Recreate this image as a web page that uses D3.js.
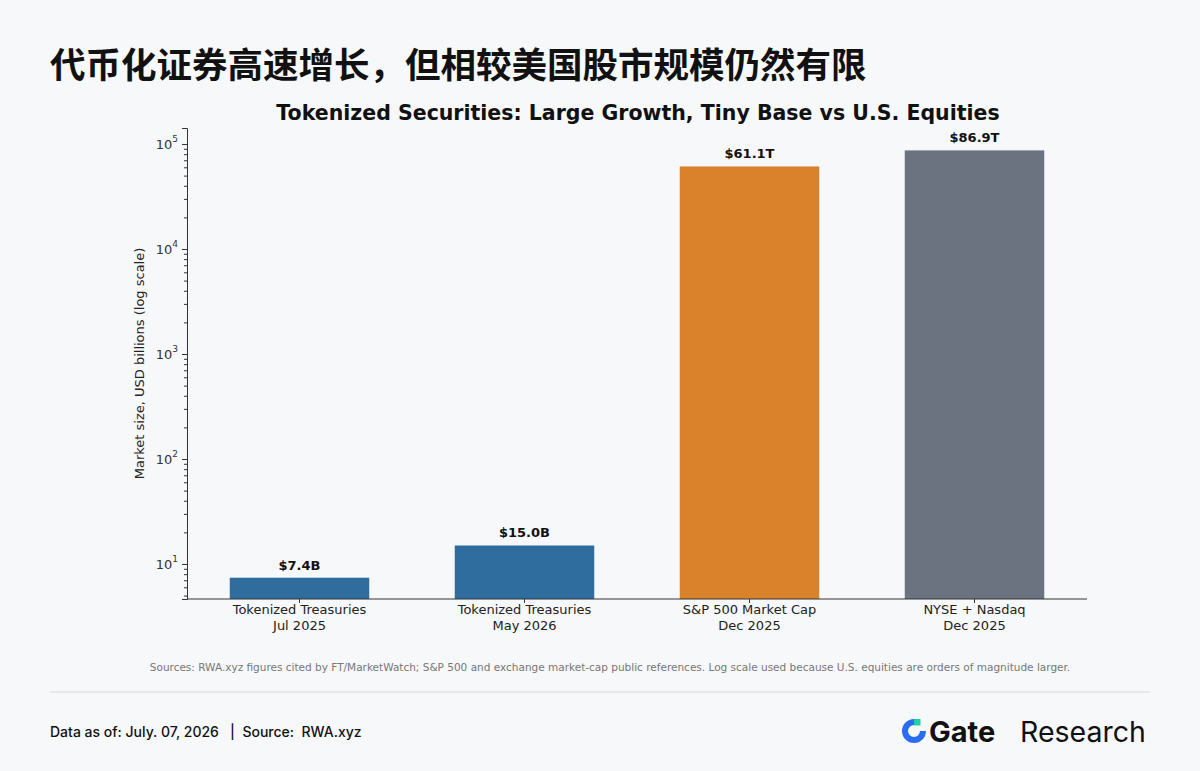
<!DOCTYPE html>
<html><head><meta charset="utf-8">
<script src="https://cdn.jsdelivr.net/npm/d3@7"></script>
<style>body{margin:0;background:#f7f8fa;}svg{display:block;font-family:"DejaVu Sans",sans-serif;}</style>
</head><body>
<script>
var categories = ["Tokenized Treasuries|Jul 2025", "Tokenized Treasuries|May 2026", "S&P 500 Market Cap|Dec 2025", "NYSE + Nasdaq|Dec 2025"];
var values = [7.4, 15.0, 61100, 86900];
var labels = ["$7.4B", "$15.0B", "$61.1T", "$86.9T"];
var colors = ["#2e6d9e", "#2e6d9e", "#d9812b", "#6b7280"];

var width = 1200, height = 771;
var pLeft = 187, pRight = 1087, pTop = 128, pBottom = 599;

var svg = d3.select("body").append("svg").attr("width", width).attr("height", height);
svg.append("rect").attr("width", width).attr("height", height).attr("fill", "#f7f8fa");

svg.append("text").attr("x", 50).attr("y", 78)
    .attr("font-family", "'Noto Sans CJK SC',sans-serif").attr("font-weight", 700)
    .attr("font-size", 35.5).attr("fill", "#111").text("代币化证券高速增长，但相较美国股市规模仍然有限");

svg.append("text").attr("x", 638).attr("y", 120).attr("text-anchor", "middle")
    .attr("font-weight", "bold").attr("font-size", 20.5).attr("fill", "#111")
    .text("Tokenized Securities: Large Growth, Tiny Base vs U.S. Equities");

var x = d3.scaleBand().domain(categories).range([pLeft, pRight]).paddingInner(0.38).paddingOuter(0.19);
var y = d3.scaleLog().domain([4.64, 142000]).range([pBottom, pTop]);

svg.selectAll(".bar").data(values).enter().append("rect")
    .attr("x", (d, i) => x(categories[i]))
    .attr("width", x.bandwidth())
    .attr("y", d => y(d))
    .attr("height", d => pBottom - y(d))
    .attr("fill", (d, i) => colors[i]);

svg.selectAll(".lbl").data(values).enter().append("text")
    .attr("x", (d, i) => x(categories[i]) + x.bandwidth() / 2)
    .attr("y", d => y(d) - 8)
    .attr("text-anchor", "middle").attr("font-weight", "bold").attr("font-size", 13).attr("fill", "#111")
    .text((d, i) => labels[i]);

// y axis
var yAxis = d3.axisLeft(y).tickValues([10, 100, 1000, 10000, 100000]).tickFormat("").tickSize(5);
var gy = svg.append("g").attr("transform", "translate(" + pLeft + ",0)").call(yAxis);
var minor = [];
for (var e = 0; e <= 5; e++) for (var m = 2; m <= 9; m++) { var v = m * Math.pow(10, e); if (v > 4.64 && v < 142000) minor.push(v); }
svg.append("g").attr("transform", "translate(" + pLeft + ",0)")
    .call(d3.axisLeft(y).tickValues(minor).tickFormat("").tickSize(3))
    .call(g => g.select(".domain").remove());
svg.selectAll(".tick line").attr("stroke", "#333");
gy.select(".domain").attr("stroke", "#333");
[1, 2, 3, 4, 5].forEach(function (p) {
    var t = svg.append("text").attr("x", pLeft - 9).attr("y", y(Math.pow(10, p)) + 5)
        .attr("text-anchor", "end").attr("font-size", 13).attr("fill", "#333");
    t.append("tspan").text("10");
    t.append("tspan").attr("dy", -7).attr("font-size", 9).text(p);
});
svg.append("text").attr("transform", "translate(144," + (pTop + pBottom) / 2 + ") rotate(-90)")
    .attr("text-anchor", "middle").attr("font-size", 13).attr("fill", "#222")
    .text("Market size, USD billions (log scale)");

// x axis
var gx = svg.append("g").attr("transform", "translate(0," + pBottom + ")")
    .call(d3.axisBottom(x).tickSize(4).tickSizeOuter(0).tickFormat(""));
gx.select(".domain").attr("stroke", "#333").attr("d", "M" + pLeft + ",0H" + pRight);
gx.selectAll(".tick line").attr("stroke", "#333");
categories.forEach(function (c) {
    c.split("|").forEach(function (p, k) {
        svg.append("text").attr("x", x(c) + x.bandwidth() / 2).attr("y", pBottom + 15 + k * 16)
            .attr("text-anchor", "middle").attr("font-size", 13).attr("fill", "#222").text(p);
    });
});

svg.append("text").attr("x", 610).attr("y", 671).attr("text-anchor", "middle")
    .attr("font-size", 10.5).attr("fill", "#777")
    .text("Sources: RWA.xyz figures cited by FT/MarketWatch; S&P 500 and exchange market-cap public references. Log scale used because U.S. equities are orders of magnitude larger.");

svg.append("line").attr("x1", 50).attr("x2", 1150).attr("y1", 692).attr("y2", 692).attr("stroke", "#d8dbe0");

svg.append("text").attr("x", 50).attr("y", 737).attr("font-family", "Inter,sans-serif")
    .attr("font-size", 14).attr("font-weight", 500).attr("fill", "#111")
    .attr("xml:space", "preserve").text("Data as of: July. 07, 2026   |  Source:  RWA.xyz");

// logo
var lg = svg.append("g").attr("transform", "translate(914,731)");
lg.append("path").attr("d", d3.arc()({innerRadius: 6, outerRadius: 12, startAngle: Math.PI / 2, endAngle: 2 * Math.PI})).attr("fill", "#2a6df4");
lg.append("rect").attr("x", 0).attr("y", -12).attr("width", 6.5).attr("height", 6.5).attr("fill", "#19d3a2");
svg.append("text").attr("x", 929).attr("y", 742).attr("font-family", "Inter,sans-serif")
    .attr("font-size", 29).attr("font-weight", 700).attr("fill", "#111").text("Gate");
svg.append("text").attr("x", 1020).attr("y", 742).attr("font-family", "Inter,sans-serif")
    .attr("font-size", 28.5).attr("font-weight", 400).attr("fill", "#111").text("Research");
</script>
</body></html>
